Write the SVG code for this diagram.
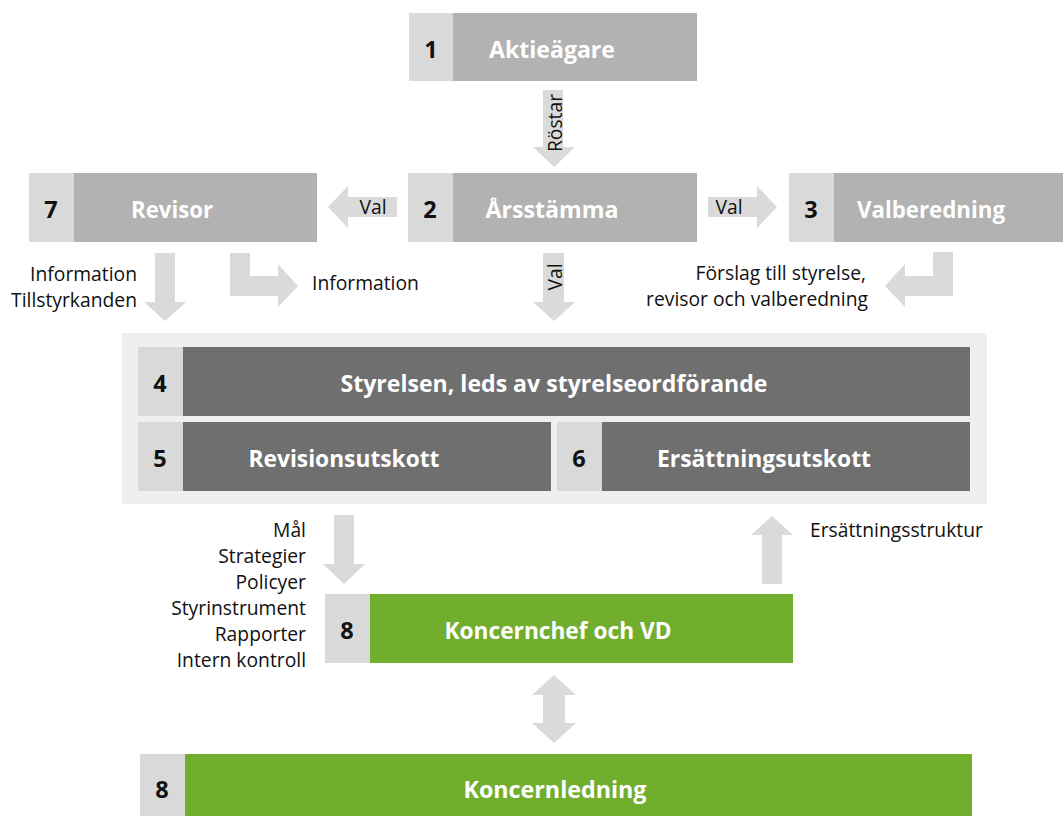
<svg xmlns="http://www.w3.org/2000/svg" width="1063" height="816" viewBox="0 0 1063 816">
<style>
.num{fill:#d9d9d9}
.mid{fill:#b2b2b2}
.dark{fill:#6f6f6f}
.green{fill:#72ae2e}
.arrow{fill:#dadada}
.n{font-family:"Open Sans","Liberation Sans",sans-serif;font-weight:bold;font-size:23.5px;fill:#111;text-anchor:middle}
.t{font-family:"Open Sans","Liberation Sans",sans-serif;font-weight:bold;font-size:23px;fill:#fff;text-anchor:middle}
.l{font-family:"Open Sans","Liberation Sans",sans-serif;font-size:19.3px;fill:#111}
.r{text-anchor:end}
.c{text-anchor:middle}
</style>
<rect width="1063" height="816" fill="#fff"/>
<rect x="122" y="333" width="865" height="171" fill="#efefef"/>

<g id="connectors">
<polygon class="arrow" points="543,90 563,90 563,147 575,147 554,167 533,147 543,147"/>
<polygon class="arrow" points="397,197 397,217 348,217 348,228 328,207 348,186 348,197"/>
<polygon class="arrow" points="708,197 757,197 757,186 777,207 757,228 757,217 708,217"/>
<polygon class="arrow" points="155,253 175,253 175,302 186,302 165,321 144,302 155,302"/>
<polygon class="arrow" points="230,253 250,253 250,276 278,276 278,264 298,286 278,307 278,296 230,296"/>
<polygon class="arrow" points="543,253 564,253 564,302 575,302 554,321 533,302 543,302"/>
<polygon class="arrow" points="953,252 953,296 905,296 905,307 885,286 905,264 905,276 933,276 933,252"/>
<polygon class="arrow" points="334,515 354,515 354,564 365,564 344,584 323,564 334,564"/>
<polygon class="arrow" points="762,584 782,584 782,535 793,535 772,516 751,535 762,535"/>
<polygon class="arrow" points="554,675 576,695 565,695 565,723 576,723 554,743 532,723 543,723 543,695 532,695"/>
<text class="l c" transform="translate(562,123) rotate(-90)">Röstar</text>
<text class="l c" transform="translate(562,277) rotate(-90)">Val</text>
<text class="l c" x="373" y="214">Val</text>
<text class="l c" x="729" y="214">Val</text>
<text class="l r" x="137" y="281">Information</text>
<text class="l r" x="137" y="307">Tillstyrkanden</text>
<text class="l" x="312" y="290">Information</text>
<text class="l r" x="866" y="280">Förslag till styrelse,</text>
<text class="l r" x="868" y="306">revisor och valberedning</text>
<text class="l r" x="306" y="537">Mål</text>
<text class="l r" x="306" y="563">Strategier</text>
<text class="l r" x="306" y="589">Policyer</text>
<text class="l r" x="306" y="615">Styrinstrument</text>
<text class="l r" x="306" y="641">Rapporter</text>
<text class="l r" x="306" y="667">Intern kontroll</text>
<text class="l" x="810" y="537">Ersättningsstruktur</text>
</g>

<g id="n1">
<rect class="mid" x="409" y="13" width="288" height="68"/>
<rect class="num" x="409" y="13" width="44" height="68"/>
<text class="n" x="431" y="58">1</text>
<text class="t" x="552" y="58" textLength="126" lengthAdjust="spacingAndGlyphs">Aktieägare</text>
</g>
<g id="n2">
<rect class="mid" x="408" y="173" width="289" height="69"/>
<rect class="num" x="408" y="173" width="45" height="69"/>
<text class="n" x="430" y="218">2</text>
<text class="t" x="552" y="218" textLength="133" lengthAdjust="spacingAndGlyphs">Årsstämma</text>
</g>
<g id="n7">
<rect class="mid" x="29" y="173" width="288" height="69"/>
<rect class="num" x="29" y="173" width="45" height="69"/>
<text class="n" x="51" y="218">7</text>
<text class="t" x="172" y="218" textLength="82" lengthAdjust="spacingAndGlyphs">Revisor</text>
</g>
<g id="n3">
<rect class="mid" x="789" y="173" width="288" height="69"/>
<rect class="num" x="789" y="173" width="45" height="69"/>
<text class="n" x="811" y="218">3</text>
<text class="t" x="931" y="218" textLength="148" lengthAdjust="spacingAndGlyphs">Valberedning</text>
</g>
<g id="n4">
<rect class="dark" x="138" y="347" width="832" height="69"/>
<rect class="num" x="138" y="347" width="45" height="69"/>
<text class="n" x="160" y="392">4</text>
<text class="t" x="554" y="392" textLength="427" lengthAdjust="spacingAndGlyphs">Styrelsen, leds av styrelseordförande</text>
</g>
<g id="n5">
<rect class="dark" x="138" y="422" width="413" height="69"/>
<rect class="num" x="138" y="422" width="45" height="69"/>
<text class="n" x="160" y="467">5</text>
<text class="t" x="344" y="467" textLength="191" lengthAdjust="spacingAndGlyphs">Revisionsutskott</text>
</g>
<g id="n6">
<rect class="dark" x="557" y="422" width="413" height="69"/>
<rect class="num" x="557" y="422" width="45" height="69"/>
<text class="n" x="579" y="467">6</text>
<text class="t" x="764" y="467" textLength="214" lengthAdjust="spacingAndGlyphs">Ersättningsutskott</text>
</g>
<g id="n8">
<rect class="green" x="325" y="594" width="468" height="69"/>
<rect class="num" x="325" y="594" width="45" height="69"/>
<text class="n" x="347" y="639">8</text>
<text class="t" x="558" y="639" textLength="227" lengthAdjust="spacingAndGlyphs">Koncernchef och VD</text>
</g>
<g id="n8b">
<rect class="green" x="140" y="754" width="832" height="69"/>
<rect class="num" x="140" y="754" width="45" height="69"/>
<text class="n" x="162" y="798">8</text>
<text class="t" x="555" y="798" textLength="183" lengthAdjust="spacingAndGlyphs">Koncernledning</text>
</g>
</svg>
